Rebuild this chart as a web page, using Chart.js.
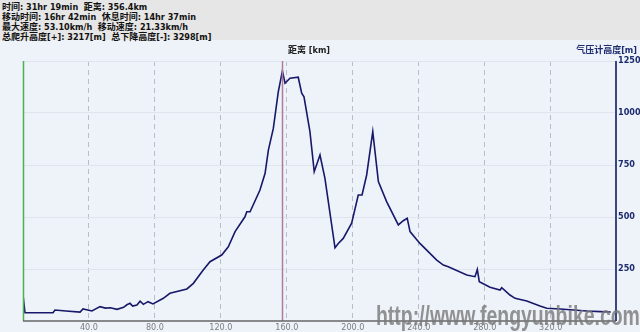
<!DOCTYPE html>
<html>
<head>
<meta charset="utf-8">
<script src="https://cdn.jsdelivr.net/npm/chart.js@4"></script>
<style>
  body { margin: 0; width: 640px; height: 332px; overflow: hidden; background: #eef3fa; font-family: "DejaVu Sans Condensed", "Noto Sans CJK SC", sans-serif; }
  #head { position: absolute; left: 0; top: 0; width: 640px; height: 40px; background: #e6e6e6; }
  #head div { position: absolute; left: 2px; font-size: 9px; font-weight: bold; color: #111; white-space: nowrap; font-family: "DejaVu Sans Condensed", "Noto Sans CJK SC", sans-serif; }
  #wrap { position: absolute; left: 0; top: 40px; width: 640px; height: 292px; }
  .ttl { position: absolute; top: 43px; font-size: 9px; font-weight: bold; font-family: "DejaVu Sans Condensed", "Noto Sans CJK SC", sans-serif; white-space: nowrap; }
  #wm { position: absolute; left: 376px; top: 301px; font-family: "Liberation Sans Narrow", sans-serif; font-weight: bold; font-size: 27px; color: rgba(120,120,120,0.8); white-space: nowrap; transform-origin: 0 0; transform: scaleX(0.72); line-height: 30px; }
</style>
</head>
<body>
<div id="head">
  <div style="top:0px">时间: 31hr 19min&nbsp; 距离: 356.4km</div>
  <div style="top:10px">移动时间: 16hr 42min&nbsp; 休息时间: 14hr 37min</div>
  <div style="top:20px">最大速度: 53.10km/h&nbsp; 移动速度: 21.33km/h</div>
  <div style="top:30px">总爬升高度[+]: 3217[m]&nbsp; 总下降高度[-]: 3298[m]</div>
</div>
<div id="wrap"><canvas id="c" width="640" height="292"></canvas></div>
<div class="ttl" style="left:288px; color:#222">距离 [km]</div>
<div class="ttl" style="right:3px; color:#1c2a6e">气压计高度[m]</div>
<div id="wm">http://www.fengyunbike.com</div>
<script>
// distance along route (km) and barometric altitude (m)
const distKm = [0, 1.2, 18.2, 19.4, 26, 34.6, 36.4, 41.8, 46.7, 50, 53, 57.0, 61, 63, 64.9, 66.5, 69.1, 71, 73, 75.8, 78.8, 85.1, 89.1, 99.4, 103.3,
  109.3, 113.4, 120.5, 124.5, 128.6, 134.6, 135.7, 137.7, 143.7, 146.8, 148.8, 151.8, 154.8, 157.3, 158.9, 161.9, 166.9,
  169.0, 170.4, 174.0, 176.6, 180.1, 183.1, 189.2, 191.2, 194.2, 199.3, 203.3, 205.6, 208.4, 212.1, 215.5, 220.5, 227.6,
  230.6, 233.0, 234.7, 240.7, 250.9, 254.9, 257.9, 269.1, 274.1, 275.5, 276.7, 283.2, 289.3, 290.3, 295.3, 298.4, 305.5,
  313.5, 317.6, 325.7, 333.8, 341.9, 350.0, 356.4];
const altM = [125, 40, 40, 53, 48, 43, 58, 48, 69, 62, 64, 56, 66, 78, 85, 72, 77, 95, 80, 93, 82, 109, 133, 154, 181,
  245, 285, 317, 357, 430, 501, 525, 525, 630, 710, 822, 926, 1102, 1202, 1143, 1167, 1172,
  1095, 1078, 910, 718, 798, 686, 352, 373, 397, 470, 606, 606, 702, 910, 670, 574, 462,
  482, 494, 430, 373, 293, 269, 261, 221, 213, 248, 189, 162, 149, 160, 125, 109, 96,
  72, 61, 58, 53, 48, 45, 43];
const xTicks = [40, 80, 120, 160, 200, 240, 280, 320];
const yTicks = [250, 500, 750, 1000, 1250];
const cursorKm = 156.9;

const points = distKm.map((d, i) => ({ x: d, y: altM[i] }));

const frame = {
  id: "frame",
  afterDatasetsDraw(chart) {
    const { ctx, chartArea: a, scales } = chart;
    ctx.save();
    const cx = Math.round(scales.x.getPixelForValue(cursorKm)) + 0.5;
    ctx.strokeStyle = "#b07a9a";
    ctx.lineWidth = 1.5;
    ctx.beginPath(); ctx.moveTo(cx, a.top); ctx.lineTo(cx, a.bottom); ctx.stroke();
    ctx.strokeStyle = "#4caf50";
    ctx.lineWidth = 1.5;
    ctx.beginPath(); ctx.moveTo(a.left + 0.5, a.top); ctx.lineTo(a.left + 0.5, a.bottom); ctx.stroke();
    ctx.strokeStyle = "#666";
    ctx.lineWidth = 1.5;
    ctx.beginPath(); ctx.moveTo(a.left, a.bottom); ctx.lineTo(a.right, a.bottom); ctx.stroke();
    ctx.strokeStyle = "#3a4680";
    ctx.lineWidth = 2;
    ctx.beginPath(); ctx.moveTo(a.right, a.top); ctx.lineTo(a.right, a.bottom); ctx.stroke();
    ctx.restore();
  }
};

new Chart(document.getElementById("c"), {
  type: "line",
  data: {
    datasets: [{
      data: points,
      borderColor: "#18186a",
      borderWidth: 1.6,
      pointRadius: 0,
      tension: 0,
      fill: false
    }]
  },
  options: {
    responsive: false,
    animation: false,
    events: [],
    layout: { padding: { left: 23, top: 21, right: 0, bottom: 0 } },
    plugins: { legend: { display: false }, tooltip: { enabled: false } },
    scales: {
      x: {
        type: "linear",
        min: 0,
        max: 359.6,
        afterFit(s) { s.height = 11; },
        afterBuildTicks(s) { s.ticks = xTicks.map(v => ({ value: v })); },
        border: { display: false, dash: [5, 4] },
        grid: { color: "#b9bdc9", lineWidth: 1, tickLength: 0 },
        ticks: { padding: 1, color: "#7d7d7d", font: { family: "DejaVu Sans Condensed", size: 9 }, callback: v => v.toFixed(1), maxRotation: 0 }
      },
      y: {
        position: "right",
        min: 0,
        max: 1250,
        afterFit(s) { s.width = 24; },
        afterBuildTicks(s) { s.ticks = yTicks.map(v => ({ value: v })); },
        border: { display: false },
        grid: { color: "#dfe4ee", lineWidth: 1, tickLength: 0 },
        ticks: { padding: 2, color: "#1c2a6e", font: { family: "DejaVu Sans Condensed", size: 9, weight: "bold" }, callback: v => String(v) }
      }
    }
  },
  plugins: [frame]
});
</script>
</body>
</html>
